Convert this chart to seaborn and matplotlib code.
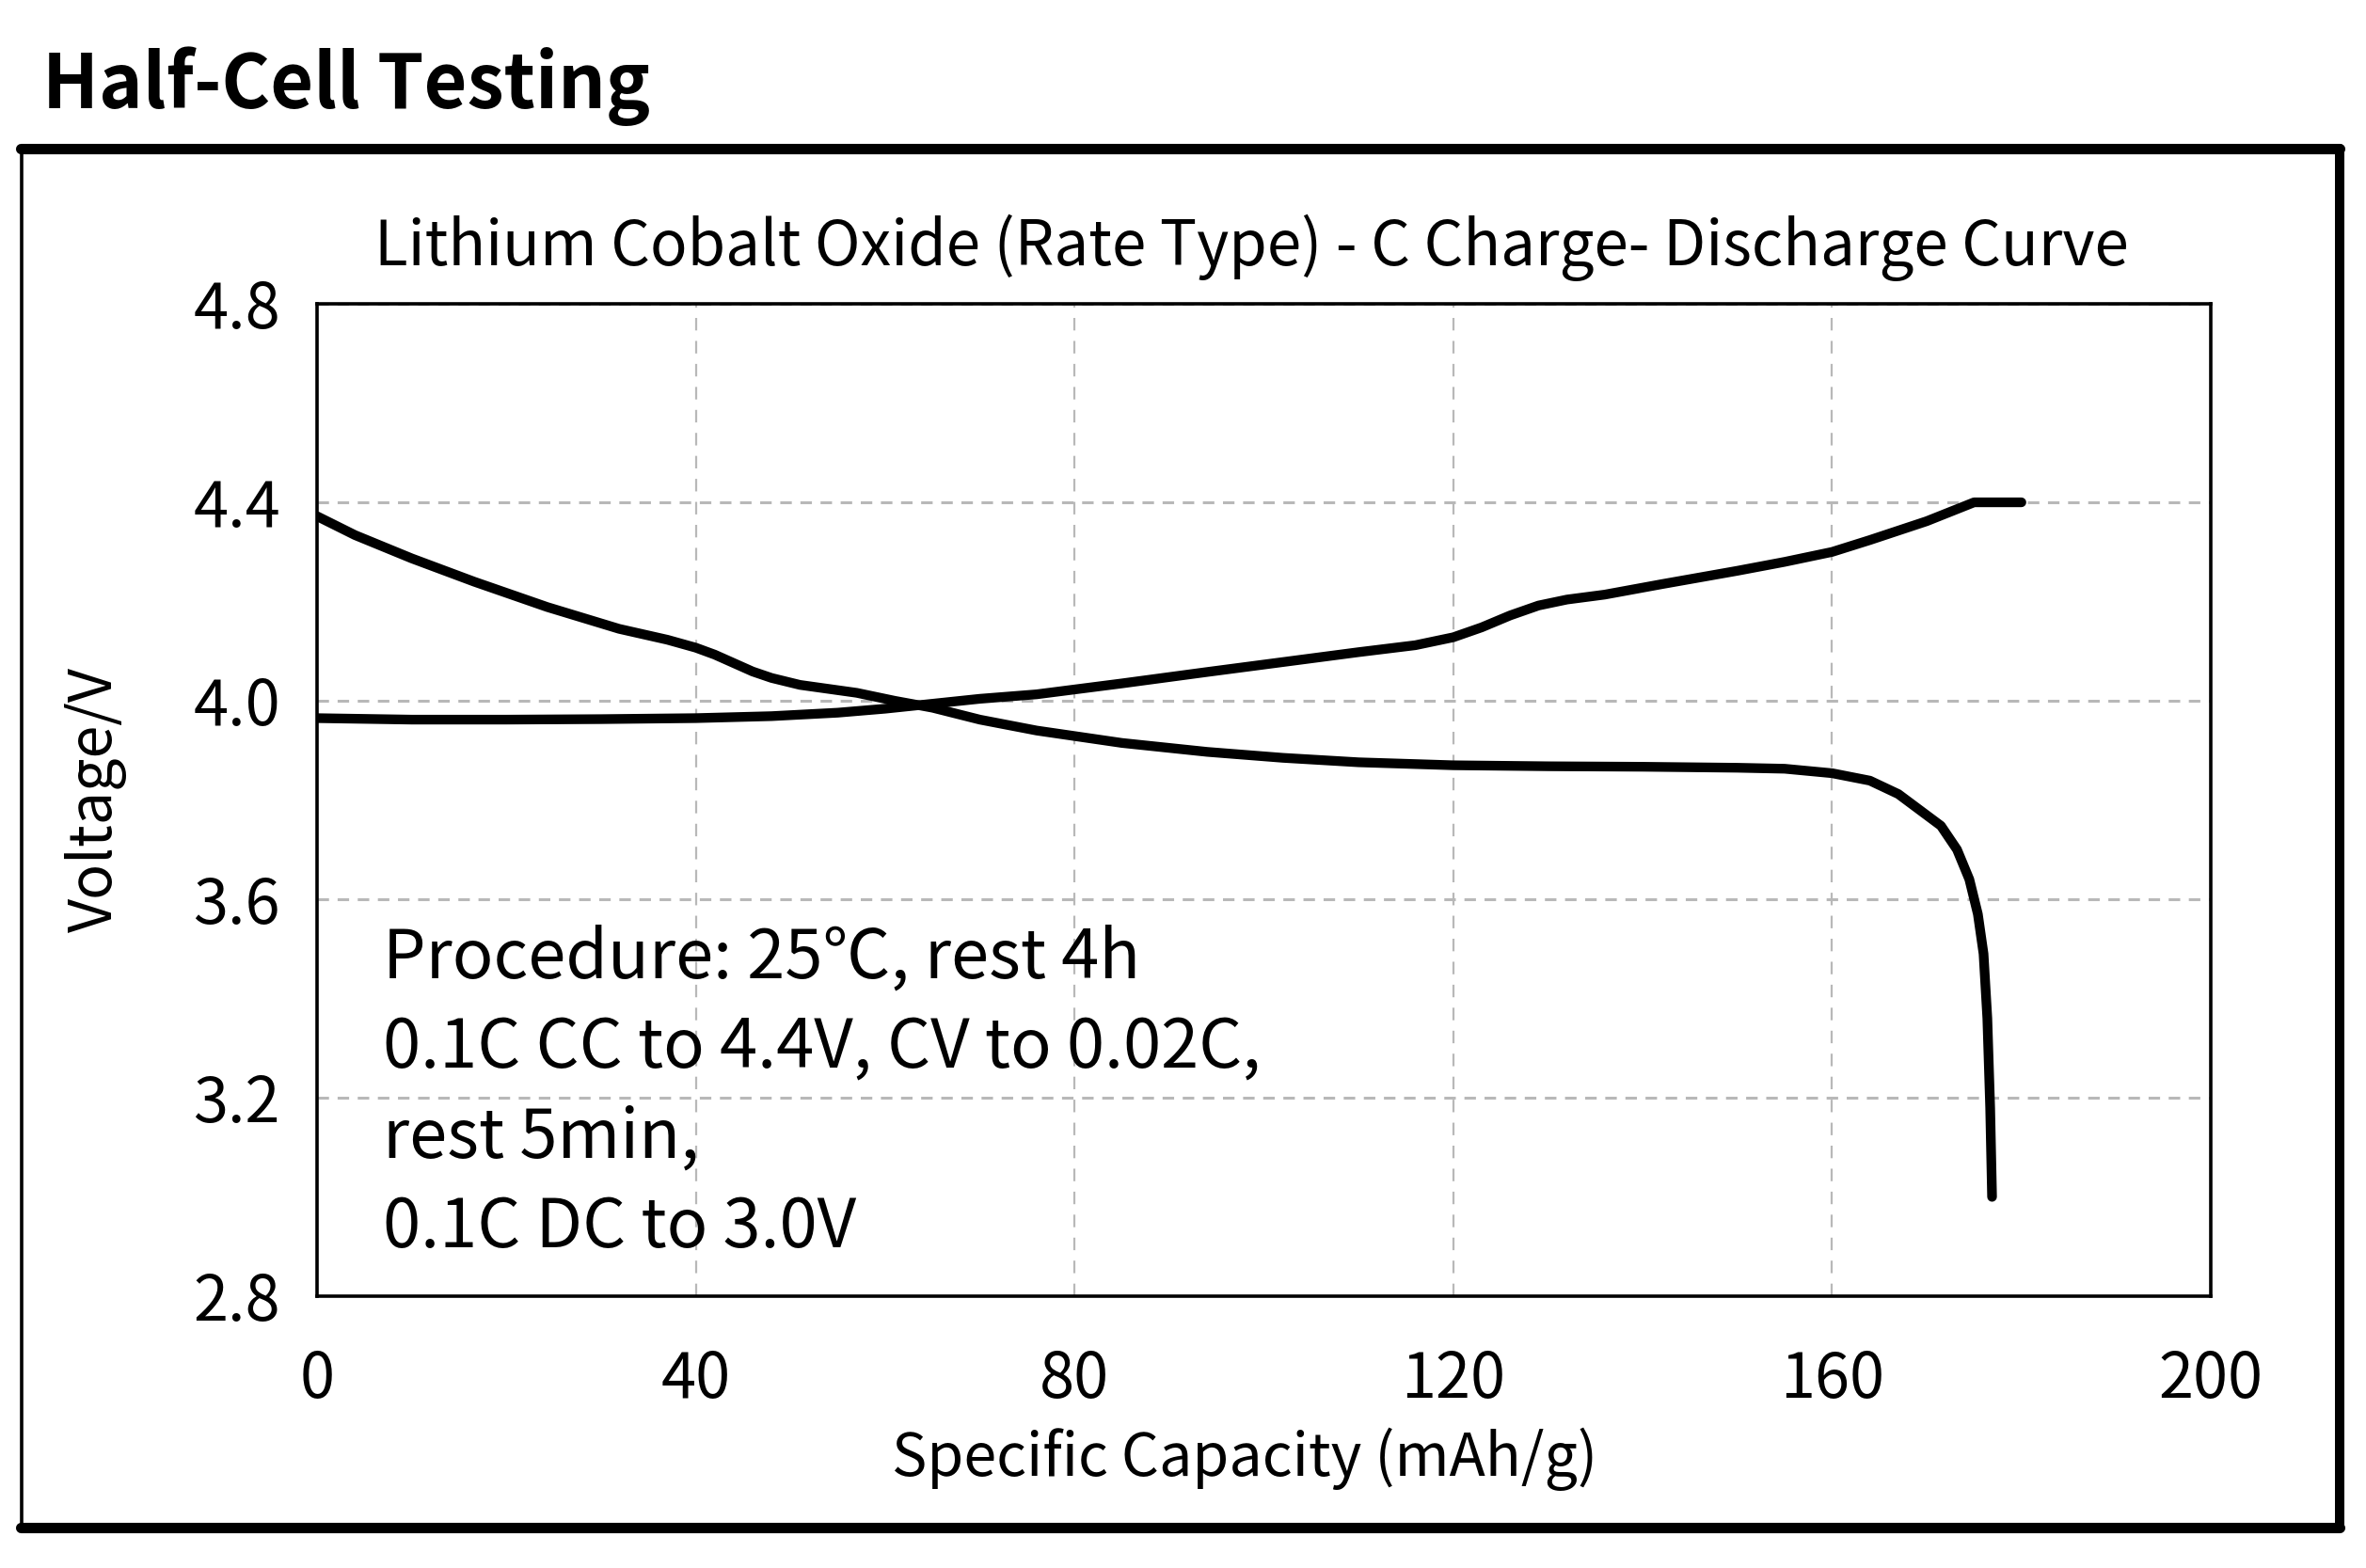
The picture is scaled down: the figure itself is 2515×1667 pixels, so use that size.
import numpy as np
import pandas as pd
import matplotlib.pyplot as plt
from matplotlib.lines import Line2D
import seaborn as sns

sns.set_theme(style='white')
plt.rcParams['font.family'] = ['Noto Sans CJK SC', 'DejaVu Sans']

# charge curve (mAh/g, V)
charge_cap = [0, 10, 20, 30, 40, 48, 55, 60, 65, 70, 76, 85, 94, 102, 110, 116,
              120, 123, 126, 129, 132, 136, 142, 150, 155, 160, 164, 170, 175, 180]
charge_v = [3.965, 3.962, 3.962, 3.963, 3.965, 3.969, 3.976, 3.984, 3.994, 4.004,
            4.013, 4.035, 4.058, 4.078, 4.098, 4.112, 4.128, 4.148, 4.172, 4.192,
            4.204, 4.214, 4.235, 4.262, 4.28, 4.30, 4.324, 4.362, 4.40, 4.40]

# discharge curve
dis_cap = [0, 4, 10, 16.6, 24.3, 31.9, 37, 40, 42, 44, 46, 48, 51, 57, 61, 65, 70,
           76, 85, 94, 102, 110, 120, 130, 140, 150, 155, 160, 164, 167, 171.5, 173.2,
           174.5, 175.4, 176.0, 176.4, 176.7, 176.9]
dis_v = [4.372, 4.334, 4.287, 4.24, 4.189, 4.145, 4.123, 4.107, 4.093, 4.076, 4.059,
         4.046, 4.032, 4.016, 4.0, 3.986, 3.962, 3.94, 3.915, 3.897, 3.885, 3.876,
         3.87, 3.868, 3.867, 3.865, 3.863, 3.854, 3.839, 3.812, 3.748, 3.70, 3.64,
         3.57, 3.49, 3.36, 3.18, 3.0]

x_ticks = [0, 40, 80, 120, 160, 200]
y_ticks = [2.8, 3.2, 3.6, 4.0, 4.4, 4.8]

procedure = ['Procedure: 25\u2103, rest 4h',
             '0.1C CC to 4.4V, CV to 0.02C,',
             'rest 5min,',
             '0.1C DC to 3.0V']

df = pd.concat([
    pd.DataFrame({'cap': charge_cap, 'v': charge_v, 'step': 'charge'}),
    pd.DataFrame({'cap': dis_cap, 'v': dis_v, 'step': 'discharge'}),
])

fig = plt.figure(figsize=(12.575, 8.335), dpi=200)
ax = fig.add_axes([0.134, 0.1734, 0.8004, 0.6328])

sns.lineplot(data=df, x='cap', y='v', units='step', estimator=None, sort=False,
             color='black', lw=3.7, ax=ax, legend=False)
for l in ax.lines:
    l.set_solid_capstyle('round')
    l.set_solid_joinstyle('round')

ax.set_xlim(0, 200)
ax.set_ylim(2.8, 4.8)
ax.set_xticks(x_ticks)
ax.set_yticks(y_ticks)
ax.set_xticklabels([str(t) for t in x_ticks])
ax.set_yticklabels([f'{t:.1f}' for t in y_ticks])
ax.set_xlabel('')
ax.set_ylabel('')

ax.grid(axis='y', color='#b8b8b8', linestyle=(0, (4, 3)), lw=1.1)
ax.grid(axis='x', color='#b8b8b8', linestyle=(0, (6, 5)), lw=0.8)
for s in ax.spines.values():
    s.set_color('black')
    s.set_linewidth(1.3)

ax.tick_params(axis='both', direction='in', length=9, width=1.5, color='black',
               labelsize=24, labelcolor='black')
ax.tick_params(axis='x', pad=20)
ax.tick_params(axis='y', pad=14)

for i, line in enumerate(procedure):
    ax.text(0.035, 0.321 - i * 0.0905, line, transform=ax.transAxes,
            fontsize=26, color='black', va='baseline', ha='left')

fig.text(0.529, 0.8308, 'Lithium Cobalt Oxide (Rate Type) - C Charge- Discharge Curve',
         fontsize=23.6, ha='center', va='baseline', color='black')
fig.text(0.526, 0.0588, 'Specific Capacity (mAh/g)', fontsize=22.6,
         ha='center', va='baseline', color='black')
fig.text(0.0405, 0.49, 'Voltage/V', fontsize=22.6, rotation=90,
         ha='center', va='center', color='black')
fig.text(0.0179, 0.931, 'Half-Cell Testing', fontsize=28.5, fontweight='bold',
         ha='left', va='baseline', color='black')

# outer frame
fig.add_artist(Line2D([0.0087, 0.9889], [0.9052, 0.9052], transform=fig.transFigure,
                      color='black', lw=4))
fig.add_artist(Line2D([0.0087, 0.9889], [0.0258, 0.0258], transform=fig.transFigure,
                      color='black', lw=4))
fig.add_artist(Line2D([0.0093, 0.0093], [0.0258, 0.9052], transform=fig.transFigure,
                      color='black', lw=1.3))
fig.add_artist(Line2D([0.9889, 0.9889], [0.0258, 0.9052], transform=fig.transFigure,
                      color='black', lw=3.6))

fig.savefig('out.png', dpi=200, facecolor='white')
